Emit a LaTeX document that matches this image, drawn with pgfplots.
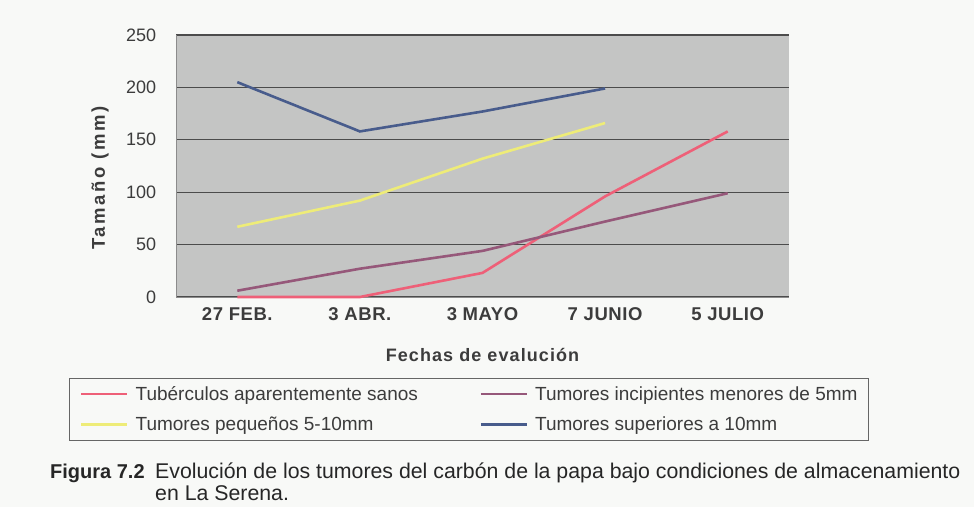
\documentclass[border=0pt]{standalone}
\usepackage{pgfplots}
\pgfplotsset{compat=1.18}
\usepackage{fontspec}
\setmainfont{Liberation Sans}
\definecolor{bgpage}{RGB}{248,249,247}
\definecolor{plotbg}{RGB}{196,197,196}
\definecolor{cred}{RGB}{238,96,120}
\definecolor{cpurple}{RGB}{150,88,122}
\definecolor{cyellow}{RGB}{238,236,120}
\definecolor{cblue}{RGB}{72,92,140}
\definecolor{txt}{RGB}{60,60,60}
\begin{document}
\begin{tikzpicture}[x=1pt,y=1pt]
\useasboundingbox (0,0) rectangle (974,507);
\fill[bgpage] (0,0) rectangle (974,507);
\begin{axis}[
  at={(176pt,210pt)}, anchor=south west,
  width=613pt, height=262pt, scale only axis,
  axis background/.style={fill=plotbg},
  xmin=-0.5, xmax=4.5, ymin=0, ymax=250,
  axis x line=bottom, axis y line=left,
  axis line style={-, black!45, line width=0.8pt},
  xtick={0,1,2,3,4},
  xticklabels={27 FEB.,3 ABR.,3 MAYO,7 JUNIO,5 JULIO},
  x tick label style={font=\fontsize{18.5}{20}\selectfont\bfseries\addfontfeatures{LetterSpace=3}, text=txt, yshift=-3pt},
  major x tick style={draw=none},
  extra x ticks={-0.5,0.5,1.5,2.5,3.5,4.5},
  extra x tick labels={},
  extra x tick style={major tick length=5pt, tick style={draw=black!45}},
  tick align=outside,
  ytick={0,50,100,150,200,250},
  y tick label style={font=\fontsize{18}{20}\selectfont, text=txt, xshift=-12pt},
  major y tick style={draw=none},
  /pgf/number format/assume math mode=true,
  ymajorgrids,
  grid style={black!70, line width=1.1pt},
  xlabel={Fechas de evalución},
  xlabel style={at={(axis description cs:0.5,-0.221)}, anchor=center, font=\fontsize{18}{20}\selectfont\bfseries\addfontfeatures{LetterSpace=6}, text=txt},
  ylabel={Tamaño (mm)},
  ylabel style={at={(axis description cs:-0.124,0.454)}, anchor=center, rotate=0, font=\fontsize{18.5}{20}\selectfont\bfseries\addfontfeatures{LetterSpace=14}, text=txt},
  legend columns=2,
  legend cell align=left,
  legend style={at={(axis description cs:-0.175,-0.309)}, anchor=north west,
    draw=black!60, line width=0.8pt, fill=none,
    font=\fontsize{19}{22}\selectfont, text=txt,
    inner xsep=11pt, inner ysep=6pt, row sep=11pt},
  legend image code/.code={\draw[#1, line width=2.4pt] (0pt,0pt) -- (46pt,0pt); \path (51pt,0pt);},
  every axis plot/.append style={line width=2.6pt, mark=none},
  clip=false,
]
\addplot[cred] coordinates {(0,0) (1,0) (2,23) (3,96) (4,158)};
\addlegendentry{\makebox[342pt][l]{Tubérculos aparentemente sanos}}
\addplot[cpurple] coordinates {(0,6) (1,27) (2,44) (3,72) (4,99)};
\addlegendentry{\makebox[320pt][l]{Tumores incipientes menores de 5mm}}
\addplot[cyellow] coordinates {(0,67) (1,92) (2,132) (3,166)};
\addlegendentry{Tumores pequeños 5-10mm}
\addplot[cblue] coordinates {(0,205) (1,158) (2,177) (3,199)};
\addlegendentry{Tumores superiores a 10mm}
\end{axis}
\node[anchor=base west, inner sep=0pt, text=black!85, font=\fontsize{20}{24}\selectfont\bfseries] at (50,29) {Figura 7.2};
\node[anchor=base west, inner sep=0pt, text=black!85, font=\fontsize{21.3}{24}\selectfont] at (155,29) {Evolución de los tumores del carbón de la papa bajo condiciones de almacenamiento};
\node[anchor=base west, inner sep=0pt, text=black!85, font=\fontsize{21.3}{24}\selectfont] at (155,7) {en La Serena.};
\end{tikzpicture}
\end{document}
